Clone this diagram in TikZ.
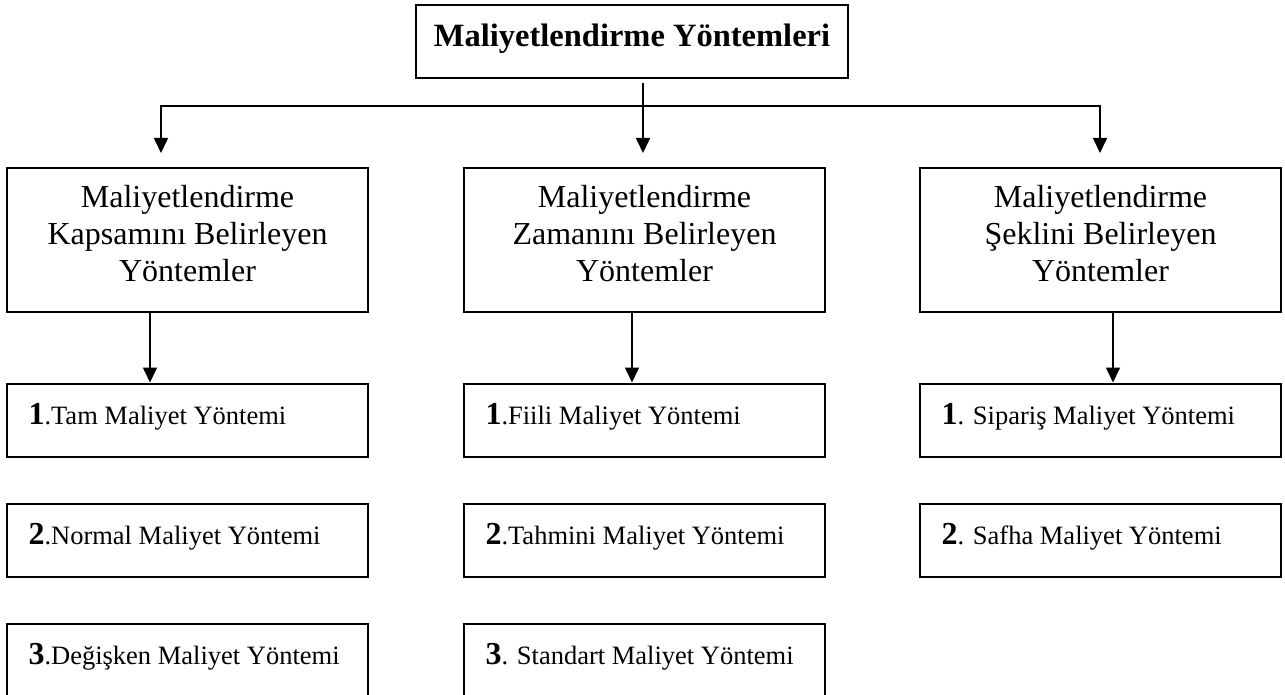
\documentclass[tikz,border=0pt]{standalone}
\usepackage{fontspec}
\setmainfont{Liberation Serif}
\usetikzlibrary{arrows.meta}
% numbered method entry: bold number, then the name
\newcommand{\itm}[2]{\makebox[318pt][l]{{\fontsize{32}{36}\selectfont\bfseries #1}.#2}}
\begin{document}
\begin{tikzpicture}[x=1pt,y=-1pt,
  box/.style={draw, line width=2pt, rectangle, inner sep=0pt},
  head/.style={box, minimum width=432pt, minimum height=73pt,
    font=\fontsize{32.5}{36}\selectfont\bfseries, text height=25pt, text depth=14pt},
  group/.style={box, minimum width=361pt, minimum height=144pt, align=center,
    font=\fontsize{32}{36.7}\selectfont},
  item/.style={box, minimum width=361pt, minimum height=73pt, inner xsep=21pt,
    font=\fontsize{26.5}{30}\selectfont, text height=20pt, text depth=12pt},
  wire/.style={line width=1.6pt},
  link/.style={wire, -{Triangle[length=15pt,width=14pt]}}]
\clip (0,0) rectangle (1285,695);

% root
\node[head] (top) at (632,41.5) {Maliyetlendirme Yöntemleri};

% three method groups
\node[group] (g1) at (187.5,240) {\rule{0pt}{24pt}Maliyetlendirme\\Kapsamını Belirleyen\\Yöntemler\rule[-15pt]{0pt}{15pt}};
\node[group] (g2) at (644.5,240) {\rule{0pt}{24pt}Maliyetlendirme\\Zamanını Belirleyen\\Yöntemler\rule[-15pt]{0pt}{15pt}};
\node[group] (g3) at (1100.5,240) {\rule{0pt}{24pt}Maliyetlendirme\\Şeklini Belirleyen\\Yöntemler\rule[-15pt]{0pt}{15pt}};

% methods in each group
\node[item] (a1) at (187.5,420) {\itm{1}{Tam Maliyet Yöntemi}};
\node[item] (a2) at (187.5,540) {\itm{2}{Normal Maliyet Yöntemi}};
\node[item] (a3) at (187.5,660) {\itm{3}{Değişken Maliyet Yöntemi}};

\node[item] (b1) at (644.5,420) {\itm{1}{Fiili Maliyet Yöntemi}};
\node[item] (b2) at (644.5,540) {\itm{2}{Tahmini Maliyet Yöntemi}};
\node[item] (b3) at (644.5,660) {\itm{3}{ Standart Maliyet Yöntemi}};

\node[item] (c1) at (1100.5,420) {\itm{1}{ Sipariş Maliyet Yöntemi}};
\node[item] (c2) at (1100.5,540) {\itm{2}{ Safha Maliyet Yöntemi}};

% branching from the root
\coordinate (bus) at (643,106);
\coordinate (stem) at ([yshift=-4pt]top.south -| bus);
\coordinate (t1) at (161,153);
\coordinate (t2) at (643,153);
\coordinate (t3) at (1100,153);
\draw[link] (stem) -- (t2);
\draw[link] (bus) -| (t1);
\draw[link] (bus) -| (t3);

% from each group to its first method
\draw[link] ([xshift=-37.5pt]g1.south) -- ([xshift=-37.5pt]g1.south |- a1.north);
\draw[link] ([xshift=-12.5pt]g2.south) -- ([xshift=-12.5pt]g2.south |- b1.north);
\draw[link] ([xshift=12.5pt]g3.south) -- ([xshift=12.5pt]g3.south |- c1.north);
\end{tikzpicture}
\end{document}
